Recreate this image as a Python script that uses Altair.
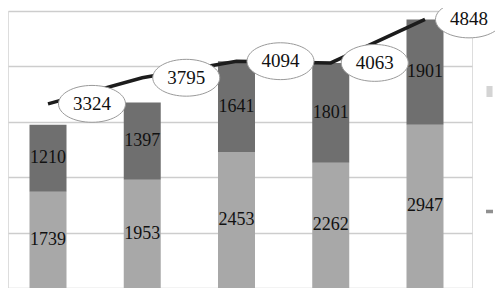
import altair as alt
import pandas as pd

categories = ["1", "2", "3", "4", "5"]
light_vals = [1739, 1953, 2453, 2262, 2947]
dark_vals = [1210, 1397, 1641, 1801, 1901]
total_vals = [3324, 3795, 4094, 4063, 4848]
grid_values = [0, 1000, 2000, 3000, 4000, 5000]
series_names = ["Series 1", "Series 2"]
legend_names = ["Series 1", "Total"]

rows = []
for c, a, b in zip(categories, light_vals, dark_vals):
    rows.append({"cat": c, "series": series_names[0], "value": a, "ord": 0, "mid": a / 2})
    rows.append({"cat": c, "series": series_names[1], "value": b, "ord": 1, "mid": a + b / 2})
bars_df = pd.DataFrame(rows)
tot_df = pd.DataFrame({"cat": categories, "total": total_vals})
leg_df = pd.DataFrame({"lg": legend_names})

FONT = "Liberation Serif"

xscale = alt.Scale(domain=categories, paddingInner=0.6074, paddingOuter=0.2653, align=0.43)
yscale = alt.Scale(domain=[0, 5000], nice=False)

x = alt.X("cat:N", scale=xscale, axis=None)

bars = alt.Chart(bars_df).mark_bar().encode(
    x=x,
    y=alt.Y("value:Q", stack="zero", scale=yscale,
            axis=alt.Axis(values=grid_values, labels=False, ticks=False, domain=False,
                          title=None, grid=True, gridColor="#cdcdcd", gridWidth=1.5)),
    color=alt.Color("series:N", scale=alt.Scale(domain=series_names, range=["#a8a8a8", "#6f6f6f"]), legend=None),
    order=alt.Order("ord:Q"),
)

bar_text = alt.Chart(bars_df).mark_text(font=FONT, fontSize=18, color="#111111",
                                        baseline="middle", align="center").encode(
    x=x,
    y=alt.Y("mid:Q", scale=yscale),
    text=alt.Text("value:Q"),
)

line = alt.Chart(tot_df).mark_line(color="#1c1c1c", strokeWidth=3.5).encode(
    x=x,
    y=alt.Y("total:Q", scale=yscale),
)

ellipse_path = "M-1,0A1,0.55,0,1,0,1,0A1,0.55,0,1,0,-1,0Z"
ellipses = alt.Chart(tot_df).mark_point(shape=ellipse_path, size=4489, filled=False,
                                        fill="white", fillOpacity=1, opacity=1,
                                        stroke="#9a9a9a", strokeWidth=1, xOffset=44).encode(
    x=x,
    y=alt.Y("total:Q", scale=yscale),
)

ell_text = alt.Chart(tot_df).mark_text(font=FONT, fontSize=19, color="#111111",
                                       baseline="middle", align="center", xOffset=44).encode(
    x=x,
    y=alt.Y("total:Q", scale=yscale),
    text=alt.Text("total:Q"),
)

rect_path = "M-0.55,-1H0.55V1H-0.55Z"
dash_path = "M-0.64,-0.32H0.64V0.32H-0.64Z"
leg = alt.Legend(title=None, orient="none", legendX=476, legendY=75,
                 symbolSize=121, rowPadding=109, labelExpr="''", labelFontSize=1,
                 symbolStrokeWidth=0, padding=0, labelOffset=0)
legend_layer = alt.Chart(leg_df).mark_point(filled=True).encode(
    fill=alt.Fill("lg:N", scale=alt.Scale(domain=legend_names, range=["#a8a8a8", "#1c1c1c"]),
                  legend=leg),
    shape=alt.Shape("lg:N", scale=alt.Scale(domain=legend_names, range=[rect_path, dash_path]),
                    legend=leg),
).transform_filter("false")

chart = alt.layer(bars, bar_text, line, ellipses, ell_text, legend_layer).properties(
    width=464, height=277,
    padding={"left": 0, "top": 3, "right": 23, "bottom": 0},
    autosize=alt.AutoSizeParams(type="none"),
).configure_view(stroke=None).configure(background="white")

chart.save("out.html", embed_options={"renderer": "svg", "actions": False})
